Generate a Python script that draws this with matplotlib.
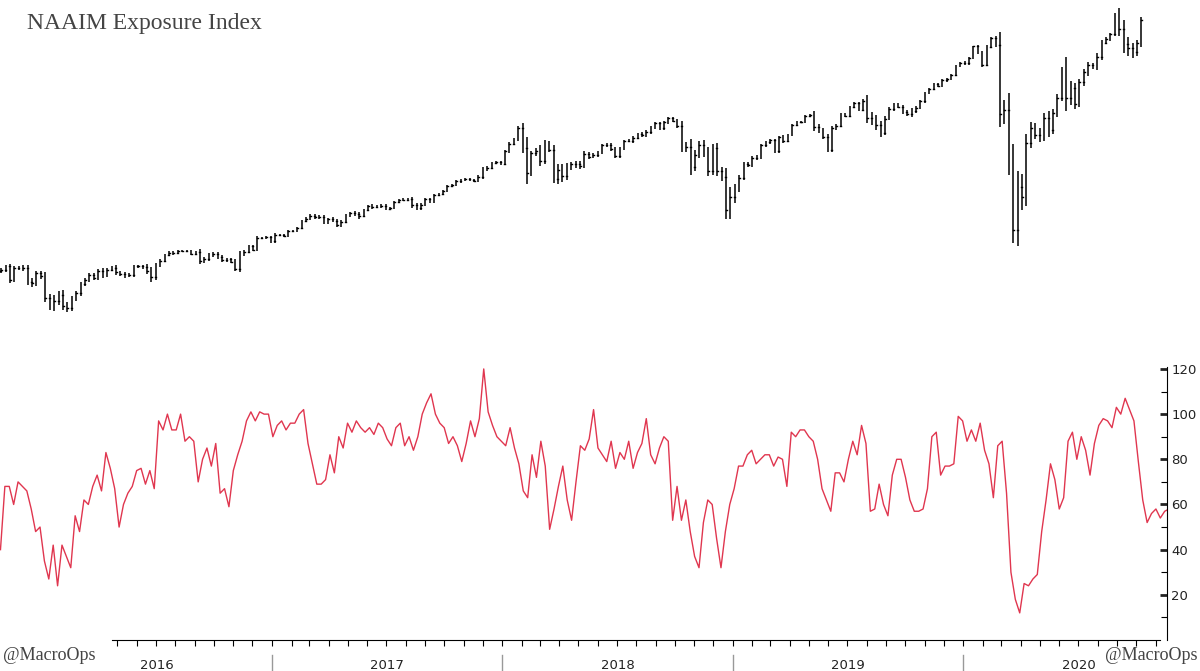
import matplotlib
matplotlib.use("Agg")
import matplotlib.pyplot as plt
import matplotlib.dates as mdates
import pandas as pd
import numpy as np

# Weekly S&P 500 closes from 2015-10-30
spx_close = [
 2079,2099,2023,2089,2090,2092,2012,2005,2061,2044,
 1922,1880,1907,1940,1880,1865,1918,1948,2000,2022,2050,2036,2073,2048,2081,2092,2065,2057,2047,2052,
 2099,2099,2096,2071,2037,2103,2130,2162,2175,2173,2183,2184,2184,2169,2180,2128,2139,2165,2168,2153,
 2133,2141,2126,2085,2164,2182,2213,2192,2260,2258,2263,2239,
 2277,2275,2271,2295,2297,2316,2351,2367,2383,2373,2378,2344,2363,2355,2329,2349,2384,2399,2391,2382,
 2416,2439,2432,2433,2438,2423,2425,2459,2473,2472,2476,2441,2426,2443,2477,2461,2500,2502,2519,2549,
 2553,2575,2581,2588,2582,2579,2602,2642,2652,2675,2683,2674,
 2743,2786,2810,2873,2762,2620,2732,2747,2691,2786,2752,2588,2641,2604,2656,2670,2670,2663,2728,2713,
 2721,2735,2779,2780,2755,2718,2760,2801,2802,2819,2840,2833,2850,2875,2902,2872,2905,2930,2914,2885,
 2767,2768,2658,2723,2781,2736,2633,2760,2633,2600,2417,2486,
 2532,2596,2671,2665,2707,2708,2776,2793,2804,2743,2822,2800,2834,2893,2907,2905,2940,2946,2881,2860,
 2826,2752,2873,2887,2950,2942,2990,3014,2977,3026,2932,2919,2889,2847,2926,2979,3007,2992,2962,2952,
 2970,2986,3023,3067,3093,3120,3110,3141,3146,3169,3221,3240,
 3235,3265,3330,3295,3226,3328,3380,3338,2954,2972,2711,2305,2541,2489,2790,2875,2837,2831,2930,2864,
 2955,3044,3194,3041,3098,3009,3130,3185,3225,3216,3271,3351,3373,3397,3508,3427,3341,3319,3298,3348,
 3477,
]
spx_open_first = 2075
# extra weekly range beyond open/close (points)
spx_wick = [
 25,20,30,25,20,30,35,40,30,30,
 50,50,60,45,50,45,30,30,25,25,20,25,25,30,20,20,25,20,25,20,
 20,15,20,30,50,25,20,15,15,15,12,12,12,15,15,30,25,20,25,20,
 20,15,15,25,40,15,12,15,15,12,10,15,
 15,12,12,12,12,10,10,12,15,15,15,20,15,20,15,15,12,12,15,30,
 12,12,20,15,15,20,15,10,10,12,12,25,25,20,15,15,12,10,10,10,
 10,10,15,10,15,12,12,25,15,15,10,15,
 15,15,15,20,60,120,30,30,60,40,30,50,60,60,40,30,35,40,30,25,
 20,20,15,20,20,30,20,15,15,20,15,20,20,15,10,15,15,15,15,20,
 60,60,90,50,40,50,60,50,60,50,100,110,
 60,30,25,20,20,25,15,15,15,20,15,20,10,10,10,10,10,10,50,30,
 25,30,25,20,15,15,10,10,15,15,60,60,50,50,30,20,15,15,20,20,
 30,20,15,15,10,10,10,10,20,10,10,10,
 15,15,10,20,20,15,10,20,150,120,200,150,180,150,100,60,50,70,60,80,
 50,40,40,150,80,60,40,40,40,20,40,30,20,20,20,80,100,80,60,40,
 40,
]

# NAAIM exposure index, weekly
naaim = [
 40,68,68,60,70,68,66,58,48,50,35,27,42,24,42,37,32,55,48,62,60,68,73,66,83,76,67,50,60,65,
 68,75,76,69,75,67,97,93,100,93,93,100,88,90,88,70,80,85,77,87,65,67,59,75,82,88,97,101,97,101,
 100,100,90,95,97,93,96,96,100,102,87,78,69,69,71,82,74,90,85,96,92,97,94,92,94,91,96,94,89,86,
 94,96,86,90,84,90,100,105,109,100,96,94,87,90,86,79,87,97,90,98,120,101,95,90,88,86,94,85,78,66,
 63,82,72,88,77,49,58,68,77,62,53,70,86,84,89,102,85,82,79,88,76,83,80,88,76,83,87,98,82,78,
 85,90,88,53,68,53,62,48,37,32,52,62,60,45,32,48,60,67,77,77,82,84,78,80,82,82,77,81,80,68,
 92,90,93,93,90,88,80,67,62,57,74,74,70,80,88,82,95,87,57,58,69,60,55,73,80,80,72,62,57,57,
 58,67,90,92,73,77,77,78,99,97,88,93,88,96,84,78,63,86,88,65,30,18,12,25,24,27,29,48,62,78,
 71,58,63,88,92,80,90,84,73,87,95,98,97,94,103,100,107,102,97,79,62,52,56,58,54,57,58,
]

years = ["2016", "2017", "2018", "2019", "2020"]
naaim_ticks = [20, 40, 60, 80, 100, 120]
naaim_minor = [10, 30, 50, 70, 90, 110]

spx_dates = pd.date_range("2015-10-30", periods=len(spx_close), freq="7D")
naaim_dates = pd.date_range("2015-10-29", periods=len(naaim), freq="6D23h")
t0 = pd.Timestamp("2015-10-30")
xl = (t0 - pd.Timedelta(weeks=0.25), t0 + pd.Timedelta(weeks=263.8))

fig = plt.figure(figsize=(12, 6.71), dpi=100)
W = 1167 / 1200
ax1 = fig.add_axes([0, 1 - 335 / 671, W, 335 / 671])
ax2 = fig.add_axes([0, 1 - 640 / 671, W, (640 - 345) / 671])

# OHLC bars
xs = mdates.date2num(spx_dates)
opens = [spx_open_first] + spx_close[:-1]
half = 1.0
for x, o, c, w in zip(xs, opens, spx_close, spx_wick):
    hi = max(o, c) + w / 2
    lo = min(o, c) - w / 2
    ax1.plot([x, x], [lo, hi], color="black", lw=1.1, solid_capstyle="butt")
    ax1.plot([x - half, x], [o, o], color="black", lw=1.0)
    ax1.plot([x, x + half], [c, c], color="black", lw=1.0)
ax1.set_xlim(mdates.date2num(xl[0]), mdates.date2num(xl[1]))
ax1.set_ylim(1715, 3590)
ax1.axis("off")
fig.text(27 / 1200, 1 - 24 / 671, "NAAIM Exposure Index", family="Liberation Serif",
         fontsize=17, color="#444444", va="center", ha="left")

# NAAIM line
ax2.plot(mdates.date2num(naaim_dates), naaim, color="#e0364f", lw=1.0)
ax2.set_xlim(mdates.date2num(xl[0]), mdates.date2num(xl[1]))
ax2.set_ylim(0, 130.6)
for s in ["top", "left"]:
    ax2.spines[s].set_visible(False)
ax2.spines["right"].set_bounds(0, 121)
xb0 = mdates.date2num(t0 + pd.Timedelta(weeks=25.1))
xb1 = mdates.date2num(t0 + pd.Timedelta(weeks=262.3))
ax2.spines["bottom"].set_bounds(xb0, xb1)
ax2.yaxis.tick_right()
ax2.set_yticks(naaim_ticks)
ax2.set_yticks(naaim_minor, minor=True)
ax2.tick_params(axis="y", which="major", labelsize=9.5, length=5, width=2, direction="in",
                colors="#222222", pad=3)
ax2.tick_params(axis="y", which="minor", length=4, width=0.8, direction="in")
months = [d for d in pd.date_range("2016-05-01", "2020-11-01", freq="MS")]
ax2.set_xticks(mdates.date2num(months))
ax2.xaxis.set_major_formatter(plt.NullFormatter())
ax2.tick_params(axis="x", which="both", length=4, direction="out")

# Year separators and labels
for i, y in enumerate(years):
    x0 = mdates.date2num(pd.Timestamp(f"{y}-01-01"))
    x1 = mdates.date2num(pd.Timestamp(f"{int(y)+1}-01-01"))
    ax2.text((x0 + x1) / 2, -0.085, y, transform=ax2.get_xaxis_transform(),
             ha="center", va="center", fontsize=9.5, color="#222222")
    if i > 0:
        ax2.plot([x0, x0], [-0.05, -0.105], transform=ax2.get_xaxis_transform(),
                 color="#999999", lw=1, clip_on=False)

fig.text(3 / 1200, 1 - 655 / 671, "@MacroOps", family="Liberation Serif", fontsize=13,
         color="#444444", va="center", ha="left")
fig.text(1197 / 1200, 1 - 655 / 671, "@MacroOps", family="Liberation Serif", fontsize=13,
         color="#444444", va="center", ha="right")

fig.savefig("out.png", dpi=100)
